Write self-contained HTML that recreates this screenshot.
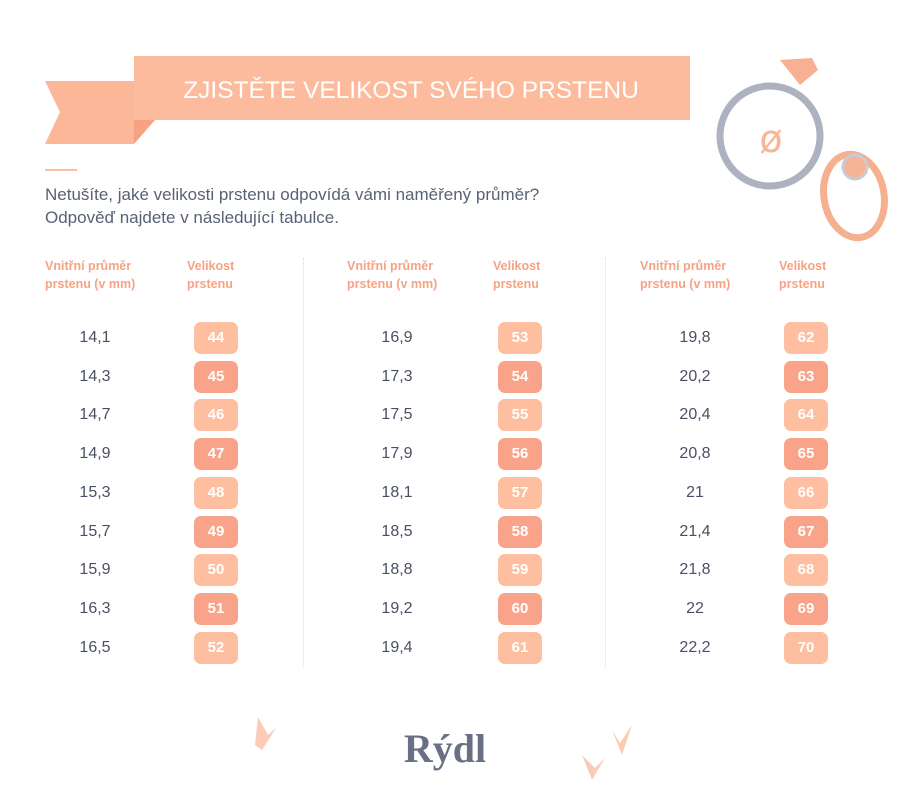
<!DOCTYPE html>
<html><head><meta charset="utf-8"><style>
body{margin:0;width:908px;height:810px;background:#fff;position:relative;font-family:"Liberation Sans",sans-serif;overflow:hidden}
.a{position:absolute}
.h{position:absolute;color:#f7a283;font-weight:bold;font-size:12.5px;line-height:18px}
.v{position:absolute;width:80px;text-align:center;font-size:16px;color:#4a5064;line-height:20px}
.b{position:absolute;width:44px;height:32px;border-radius:7px;color:#fff;font-weight:bold;font-size:15px;text-align:center;line-height:32px}
.l{background:#fdbf9f}.d{background:#f9a48a}
.div{position:absolute;top:258px;height:410px;border-left:1px dotted #ddd}
</style></head><body>
<svg class="a" style="left:0;top:0" width="908" height="810">
<polygon points="45,81 134,81 134,144 45,144 60,112" fill="#fcb698"/>
<polygon points="134,120 155,120 134,144" fill="#f6a283"/>
<rect x="134" y="56" width="556" height="64" fill="#fdbb9d"/>
<text x="411" y="98" text-anchor="middle" fill="#fff" font-family="Liberation Sans" font-size="24.5">ZJISTĚTE VELIKOST SVÉHO PRSTENU</text>
<line x1="45" y1="170" x2="77" y2="170" stroke="#fcbfa5" stroke-width="2"/>
<circle cx="770" cy="136" r="50" fill="none" stroke="#aeb2c0" stroke-width="7"/>
<polygon points="780,60 812,58 818,70 800,85" fill="#f8b092"/>
<text x="771" y="152" text-anchor="middle" fill="#f9b598" font-size="38" font-family="DejaVu Sans">ø</text>
<ellipse cx="854" cy="196" rx="30" ry="42" fill="none" stroke="#f4b08f" stroke-width="7" transform="rotate(-10 854 196)"/>
<circle cx="855" cy="167" r="12" fill="#f6b494" stroke="#c8cbd6" stroke-width="3"/>
<text x="445" y="762" text-anchor="middle" fill="#6a7084" font-family="Liberation Serif" font-weight="bold" font-size="40">Rýdl</text>
<g fill="#fbcbb5"><polygon points="258,717 268,735 276,728 262,750 255,745"/><polygon points="612,730 620,743 632,725 622,755"/><polygon points="582,755 595,768 605,758 592,780"/></g>
</svg>
<div class="a" style="left:45px;top:183px;font-size:17px;line-height:23px;color:#5a6176">Netušíte, jaké velikosti prstenu odpovídá vámi naměřený průměr?<br>Odpověď najdete v následující tabulce.</div>
<div class="h" style="left:45px;top:257px">Vnitřní průměr<br>prstenu (v mm)</div><div class="h" style="left:187px;top:257px">Velikost<br>prstenu</div>
<div class="h" style="left:347px;top:257px">Vnitřní průměr<br>prstenu (v mm)</div><div class="h" style="left:493px;top:257px">Velikost<br>prstenu</div>
<div class="h" style="left:640px;top:257px">Vnitřní průměr<br>prstenu (v mm)</div><div class="h" style="left:779px;top:257px">Velikost<br>prstenu</div>
<div class="div" style="left:303px"></div><div class="div" style="left:605px"></div>
<div id="t"></div>
<script>
var c=[[55,194,["14,1","14,3","14,7","14,9","15,3","15,7","15,9","16,3","16,5"],44],
[357,498,["16,9","17,3","17,5","17,9","18,1","18,5","18,8","19,2","19,4"],53],
[655,784,["19,8","20,2","20,4","20,8","21","21,4","21,8","22","22,2"],62]];
var h="";c.forEach(function(k){k[2].forEach(function(v,i){var y=322+i*38.7;
h+='<div class="v" style="left:'+k[0]+'px;top:'+(y+6)+'px">'+v+'</div><div class="b '+(i%2?'d':'l')+'" style="left:'+k[1]+'px;top:'+y+'px">'+(k[3]+i)+'</div>';});});
document.getElementById("t").innerHTML=h;
</script>
</body></html>
